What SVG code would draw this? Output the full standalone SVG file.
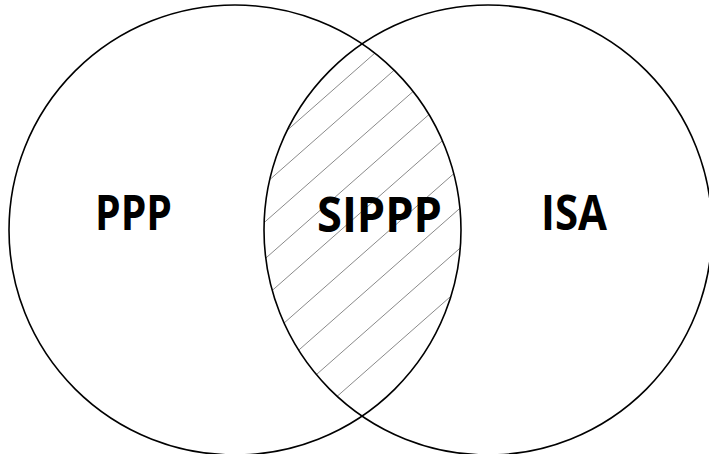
<svg xmlns="http://www.w3.org/2000/svg" width="709" height="454" viewBox="0 0 709 454">
  <style>
    .set { fill: none; stroke: #000; stroke-width: 1.6; }
    .hatch { stroke: #8a8a8a; stroke-width: 1; fill: none; }
    .label { font-family: "Open Sans", "Noto Sans", "Liberation Sans", sans-serif; font-weight: 700; font-size: 49px; fill: #000; }
  </style>
  <defs>
    <!-- overlap region of the two sets: left ellipse clipped by the right one -->
    <clipPath id="rightSet">
      <ellipse cx="488" cy="230" rx="224" ry="225"/>
    </clipPath>
    <clipPath id="lens">
      <ellipse cx="235" cy="230" rx="226" ry="225" clip-path="url(#rightSet)"/>
    </clipPath>
  </defs>
  <rect width="709" height="454" fill="#fff"/>

  <!-- shared region: diagonal hatching -->
  <g id="node-sippp">
    <g class="hatch" clip-path="url(#lens)">
      <line x1="250" y1="163" x2="470" y2="-30.6"/>
      <line x1="250" y1="197" x2="470" y2="3.4"/>
      <line x1="250" y1="235" x2="470" y2="41.4"/>
      <line x1="250" y1="272" x2="470" y2="78.4"/>
      <line x1="250" y1="310" x2="470" y2="116.4"/>
      <line x1="250" y1="353" x2="470" y2="159.4"/>
      <line x1="250" y1="393" x2="470" y2="199.4"/>
      <line x1="250" y1="433" x2="470" y2="239.4"/>
      <line x1="250" y1="473" x2="470" y2="279.4"/>
    </g>
    <text class="label" x="317" y="232" textLength="125" lengthAdjust="spacingAndGlyphs">SIPPP</text>
  </g>

  <g id="node-ppp">
    <ellipse class="set" cx="235" cy="230" rx="226" ry="225"/>
    <text class="label" x="95" y="230" textLength="77" lengthAdjust="spacingAndGlyphs">PPP</text>
  </g>

  <g id="node-isa">
    <ellipse class="set" cx="488" cy="230" rx="224" ry="225"/>
    <text class="label" x="541" y="230" textLength="66" lengthAdjust="spacingAndGlyphs">ISA</text>
  </g>
</svg>
